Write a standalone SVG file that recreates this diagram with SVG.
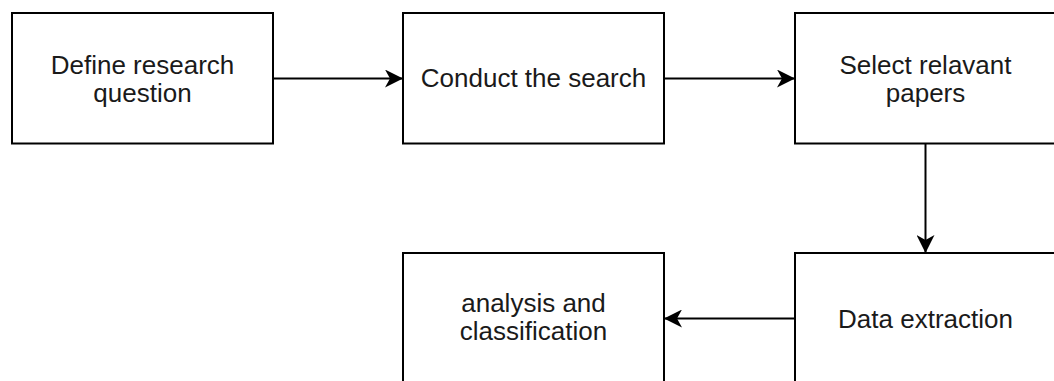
<svg xmlns="http://www.w3.org/2000/svg" width="1054" height="381" viewBox="0 0 1054 381">
  <defs>
    <style>
      .box { fill: #ffffff; stroke: #000000; stroke-width: 2; }
      .lbl { font-family: "Liberation Sans", Arial, Helvetica, sans-serif; font-size: 26px; fill: #1a1a1a; text-anchor: middle; }
      .edge { fill: none; stroke: #000000; stroke-width: 2; }
    </style>
    <marker id="arrow" viewBox="0 0 18 18" refX="18" refY="9" markerWidth="18" markerHeight="18" markerUnits="userSpaceOnUse" orient="auto">
      <path d="M0,0 L18,9 L0,18 L5,9 Z" fill="#000000"/>
    </marker>
  </defs>
  <rect width="1054" height="381" fill="#ffffff"/>

  <g id="connectors">
    <line class="edge" x1="273" y1="78.5" x2="403" y2="78.5" marker-end="url(#arrow)"/>
    <line class="edge" x1="664" y1="78.5" x2="795" y2="78.5" marker-end="url(#arrow)"/>
    <line class="edge" x1="925.5" y1="143.5" x2="925.5" y2="253" marker-end="url(#arrow)"/>
    <line class="edge" x1="795" y1="318.5" x2="664" y2="318.5" marker-end="url(#arrow)"/>
  </g>

  <g id="node-define">
    <rect class="box" x="12" y="13" width="261" height="130.5"/>
    <text class="lbl" x="142.5" y="74.3">Define research</text>
    <text class="lbl" x="142.5" y="101.7">question</text>
  </g>

  <g id="node-conduct">
    <rect class="box" x="403" y="13" width="261" height="130.5"/>
    <text class="lbl" x="533.5" y="87.3">Conduct the search</text>
  </g>

  <g id="node-select">
    <rect class="box" x="795" y="13" width="261" height="130.5"/>
    <text class="lbl" x="925.5" y="74.3">Select relavant</text>
    <text class="lbl" x="925.5" y="101.7">papers</text>
  </g>

  <g id="node-analysis">
    <rect class="box" x="403" y="253" width="261" height="130.5"/>
    <text class="lbl" x="533.5" y="312">analysis and</text>
    <text class="lbl" x="533.5" y="340.3">classification</text>
  </g>

  <g id="node-extraction">
    <rect class="box" x="795" y="253" width="261" height="130.5"/>
    <text class="lbl" x="925.5" y="327.5">Data extraction</text>
  </g>
</svg>
